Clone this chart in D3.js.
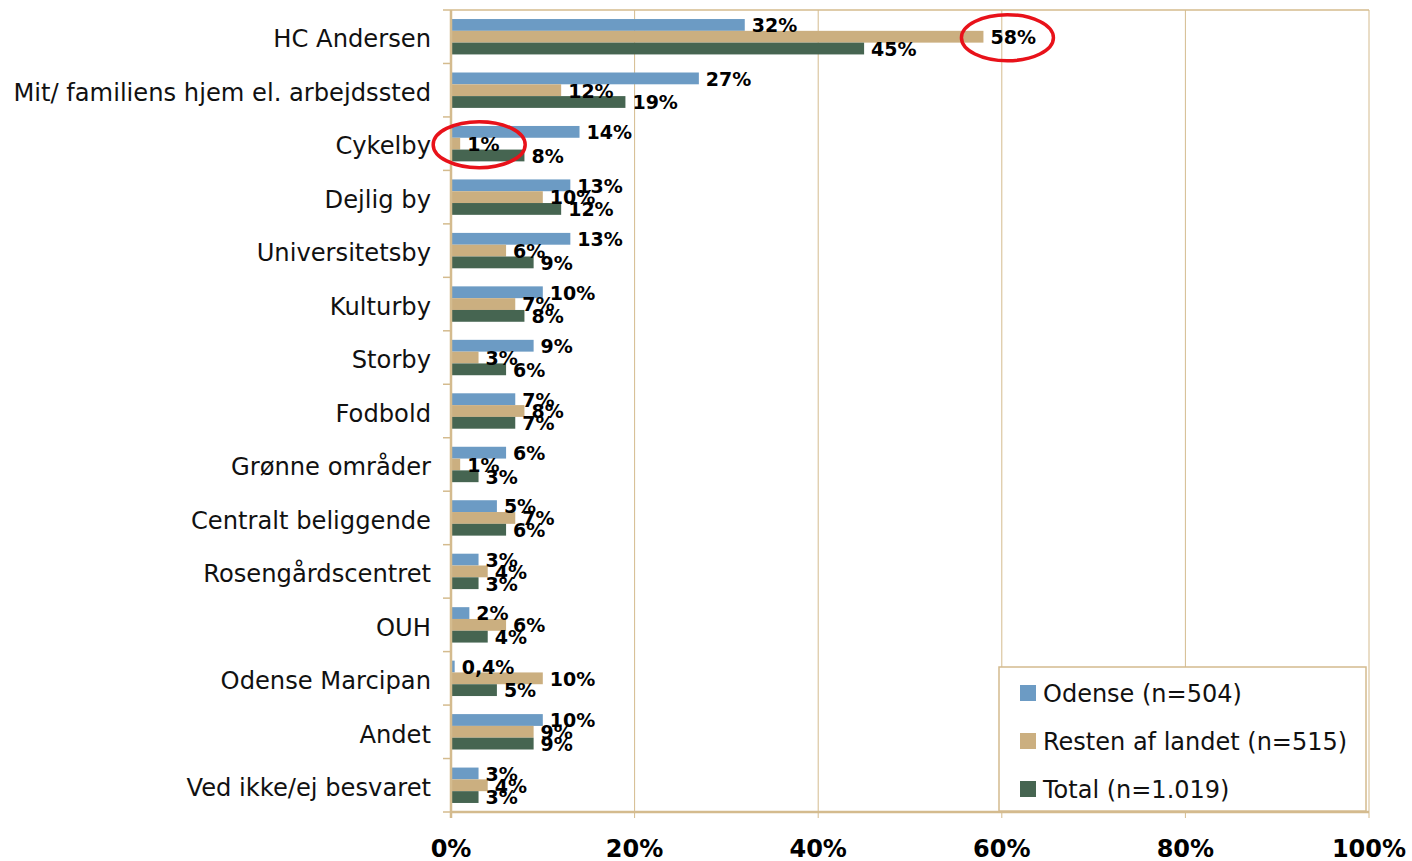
<!DOCTYPE html>
<html>
<head>
<meta charset="utf-8">
<script src="https://cdn.jsdelivr.net/npm/d3@7"></script>
<style>
  body { margin: 0; background: #fff; }
  svg text { font-family: Verdana, "DejaVu Sans", sans-serif; }
</style>
</head>
<body>
<div id="chart"></div>
<script>
/* DATA */
const categories = ['HC Andersen', 'Mit/ familiens hjem el. arbejdssted', 'Cykelby', 'Dejlig by',
  'Universitetsby', 'Kulturby', 'Storby', 'Fodbold', 'Grønne områder', 'Centralt beliggende',
  'Rosengårdscentret', 'OUH', 'Odense Marcipan', 'Andet', 'Ved ikke/ej besvaret'];
const odense = [32, 27, 14, 13, 13, 10, 9, 7, 6, 5, 3, 2, 0.4, 10, 3];
const resten = [58, 12, 1, 10, 6, 7, 3, 8, 1, 7, 4, 6, 10, 9, 4];
const total = [45, 19, 8, 12, 9, 8, 6, 7, 3, 6, 3, 4, 5, 9, 3];
const seriesNames = ['Odense (n=504)', 'Resten af landet (n=515)', 'Total (n=1.019)'];
const xTicks = [0, 20, 40, 60, 80, 100];

const colors = ['#6c9bc4', '#cbaf80', '#466551'];
const lineColor = '#d4bb8e';

/* LAYOUT */
const W = 1412, H = 861;
const margin = { top: 10, right: 43, bottom: 49, left: 451 };
const width = W - margin.left - margin.right;
const height = H - margin.top - margin.bottom;

const svg = d3.select('#chart').append('svg')
  .attr('width', W).attr('height', H);
const g = svg.append('g').attr('transform', `translate(${margin.left},${margin.top})`);

const x = d3.scaleLinear().domain([0, 100]).range([0, width]);
const y = d3.scaleBand().domain(categories).range([0, height]);
const barH = 11.8;
const sub = d3.scaleBand().domain([0, 1, 2]).range([0, barH * 3]);
const offset = (y.bandwidth() - barH * 3) / 2;

// gridlines
g.selectAll('.grid').data(xTicks.slice(1))
  .enter().append('line')
  .attr('x1', d => x(d)).attr('x2', d => x(d))
  .attr('y1', 0).attr('y2', height + 6)
  .attr('stroke', lineColor).attr('stroke-width', 1);
// top border
g.append('line').attr('x1', 0).attr('x2', width).attr('y1', 0).attr('y2', 0)
  .attr('stroke', lineColor).attr('stroke-width', 1.5);

// bars
const series = [odense, resten, total];
const rows = g.selectAll('.row').data(categories).enter().append('g')
  .attr('transform', d => `translate(0,${y(d) + offset})`);

series.forEach((vals, s) => {
  rows.append('rect')
    .attr('x', 0)
    .attr('y', sub(s))
    .attr('width', (d, i) => x(vals[i]))
    .attr('height', sub.bandwidth())
    .attr('fill', colors[s]);
});
series.forEach((vals, s) => {
  rows.append('text')
    .attr('x', (d, i) => x(vals[i]) + 7)
    .attr('y', sub(s) + sub.bandwidth() / 2 + 0.5)
    .attr('dy', '0.36em')
    .style('font-size', '19px')
    .style('font-weight', 'bold')
    .text((d, i) => vals[i] < 1 ? String(vals[i]).replace('.', ',') + '%' : vals[i] + '%');
});

// axes lines
g.append('line').attr('x1', 0).attr('x2', 0).attr('y1', 0).attr('y2', height + 6)
  .attr('stroke', lineColor).attr('stroke-width', 2.5);
g.append('line').attr('x1', -1).attr('x2', width).attr('y1', height).attr('y2', height)
  .attr('stroke', lineColor).attr('stroke-width', 2.5);

// left ticks at band boundaries
g.selectAll('.ytick').data(d3.range(categories.length + 1))
  .enter().append('line')
  .attr('x1', -8).attr('x2', 0)
  .attr('y1', i => i * y.step()).attr('y2', i => i * y.step())
  .attr('stroke', lineColor).attr('stroke-width', 1.5);

// category labels
g.selectAll('.ylab').data(categories).enter().append('text')
  .attr('x', -20)
  .attr('y', d => y(d) + y.bandwidth() / 2 + 2)
  .attr('dy', '0.36em')
  .attr('text-anchor', 'end')
  .style('font-size', '24.2px')
  .attr('fill', '#111')
  .text(d => d);

// x tick labels
g.selectAll('.xlab').data(xTicks).enter().append('text')
  .attr('x', d => x(d))
  .attr('y', height + 45)
  .attr('text-anchor', 'middle')
  .style('font-size', '24px')
  .style('font-weight', 'bold')
  .text(d => d + '%');

// annotation ellipses
const ell = [
  { cx: x(resten[0]) + 24, cy: y(categories[0]) + offset + sub(1) + sub.bandwidth() / 2 + 1 },
  { cx: x(resten[2]) + 19, cy: y(categories[2]) + offset + sub(1) + sub.bandwidth() / 2 + 1 }
];
g.selectAll('.ell').data(ell).enter().append('ellipse')
  .attr('cx', d => d.cx).attr('cy', d => d.cy)
  .attr('rx', 46).attr('ry', 23)
  .attr('fill', 'none').attr('stroke', '#e8121a').attr('stroke-width', 3.5);

// legend
const lg = svg.append('g').attr('transform', 'translate(999,667)');
lg.append('rect').attr('width', 367).attr('height', 144)
  .attr('fill', '#fff').attr('stroke', lineColor).attr('stroke-width', 1.5);
const items = lg.selectAll('.item').data(seriesNames).enter().append('g')
  .attr('transform', (d, i) => `translate(21,${26 + i * 48})`);
items.append('rect').attr('y', -8).attr('width', 16).attr('height', 16)
  .attr('fill', (d, i) => colors[i]);
items.append('text').attr('x', 23).attr('dy', '0.36em')
  .style('font-size', '24px').attr('fill', '#111')
  .text(d => d);
</script>
</body>
</html>
